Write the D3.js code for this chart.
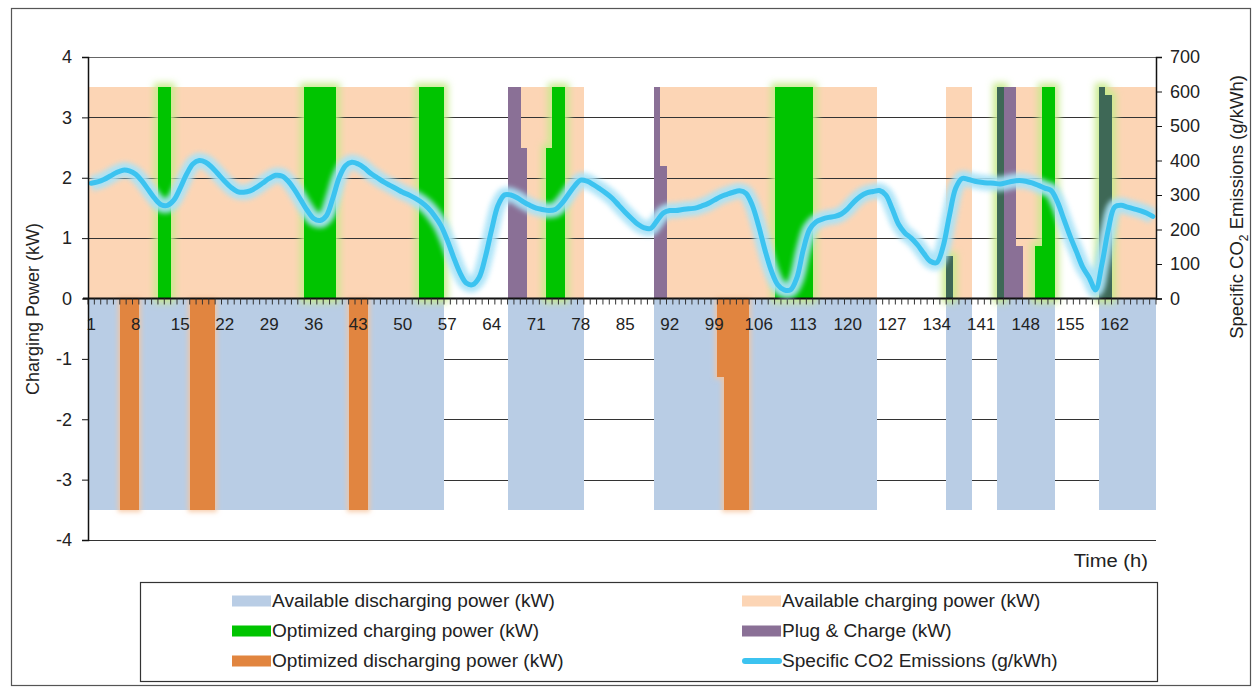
<!DOCTYPE html>
<html><head><meta charset="utf-8">
<script src="https://cdn.jsdelivr.net/npm/d3@7"></script>
<style>
body{margin:0;background:#fff;}
text{font-family:"Liberation Sans",Arial,sans-serif;fill:#222;}
</style></head>
<body><svg id="c" width="1255" height="689"></svg>
<script>
// ---------- data ----------
const hours = d3.range(1, 169);
const xTickLabels = [1,8,15,22,29,36,43,50,57,64,71,78,85,92,99,106,113,120,127,134,141,148,155,162];
const leftTicks = [-4,-3,-2,-1,0,1,2,3,4];
const rightTicks = [0,100,200,300,400,500,600,700];
// hour windows when the vehicle is plugged in (available power +/-3.5 kW)
const availableWindows = [[1,56],[67,78],[90,124],[136,139],[144,152],[160,168]];
const availChargeLevel = 3.5;
const availDischargeLevel = -3.5;
// [hour, kW]
const optCharging = [[12,3.5],[13,3.5],[35,3.5],[36,3.5],[37,3.5],[38,3.5],[39,3.5],
  [53,3.5],[54,3.5],[55,3.5],[56,3.5],[73,2.5],[74,3.5],[75,3.5],
  [109,3.5],[110,3.5],[111,3.5],[112,3.5],[113,3.5],[114,3.5],
  [136,0.7],[144,3.5],[150,0.87],[151,3.5],[152,3.5],[160,3.5],[161,3.37]];
const plugCharge = [[67,3.5],[68,3.5],[69,2.5],[90,3.5],[91,2.2],[136,0.7],
  [144,3.5],[145,3.5],[146,3.5],[147,0.87],[160,3.5],[161,3.37]];
const optDischarging = [[6,-3.5],[7,-3.5],[8,-3.5],[17,-3.5],[18,-3.5],[19,-3.5],[20,-3.5],
  [42,-3.5],[43,-3.5],[44,-3.5],[100,-1.3],[101,-3.5],[102,-3.5],[103,-3.5],[104,-3.5]];
// specific CO2 emissions g/kWh, hours 1..168
const co2 = [334,338,345,355,365,372,370,360,340,315,290,272,270,285,320,360,390,400,395,380,
  360,340,322,310,308,312,322,335,348,357,355,340,315,285,255,232,226,240,290,350,
  385,395,390,378,362,350,338,328,318,308,300,290,278,262,240,212,170,120,75,45,
  40,60,120,200,270,300,300,292,280,270,262,258,255,258,275,300,325,343,340,330,
  318,305,290,270,250,232,215,205,203,225,248,255,255,258,260,262,268,275,285,295,
  302,308,312,305,270,210,140,80,40,25,25,60,140,200,222,230,235,238,245,260,
  280,296,306,310,313,300,260,215,190,175,155,130,108,104,150,240,320,348,345,340,
  337,335,334,332,336,340,342,340,335,328,320,313,280,230,180,135,90,60,25,100,
  200,265,270,265,260,255,248,238];

const legendItems = [
  {label:"Available discharging power (kW)", color:"#b9cde5", type:"bar", col:0, row:0},
  {label:"Available charging power (kW)", color:"#fcd5b5", type:"bar", col:1, row:0},
  {label:"Optimized charging power (kW)", color:"#00c400", type:"bar", col:0, row:1},
  {label:"Plug & Charge (kW)", color:"#8a7096", type:"bar", col:1, row:1},
  {label:"Optimized discharging power (kW)", color:"#e1853f", type:"bar", col:0, row:2},
  {label:"Specific CO2 Emissions (g/kWh)", color:"#3cc3f0", type:"line", col:1, row:2}
];

// ---------- drawing ----------
const svg = d3.select("#c");
const X0 = 88, X1 = 1156;
const x = d3.scaleBand().domain(hours).range([X0, X1]).padding(0);
const y = d3.scaleLinear().domain([-4, 4]).range([540, 57]);
const y2 = d3.scaleLinear().domain([0, 700]).range([y(0), y(4)]);

const defs = svg.append("defs");
function glow(id, color, dil, sd, op){
  const f = defs.append("filter").attr("id", id)
    .attr("filterUnits","userSpaceOnUse").attr("x",0).attr("y",0).attr("width",1255).attr("height",689);
  f.append("feMorphology").attr("in","SourceAlpha").attr("operator","dilate").attr("radius",dil).attr("result","d");
  f.append("feGaussianBlur").attr("in","d").attr("stdDeviation",sd).attr("result","b");
  f.append("feFlood").attr("flood-color",color).attr("flood-opacity",op);
  f.append("feComposite").attr("in2","b").attr("operator","in").attr("result","g");
  const m = f.append("feMerge");
  m.append("feMergeNode").attr("in","g");
  m.append("feMergeNode").attr("in","SourceGraphic");
}
glow("gGreen", "#c8eb8c", 4, 3.5, 0.95);
glow("gOrange", "#f7c49c", 1.5, 2.5, 0.85);
defs.append("filter").attr("id","blurLine").attr("filterUnits","userSpaceOnUse")
  .attr("x",0).attr("y",0).attr("width",1255).attr("height",689)
  .append("feGaussianBlur").attr("stdDeviation",2.4);

// outer frame
svg.append("rect").attr("x",11.5).attr("y",8.5).attr("width",1239).attr("height",677)
  .attr("fill","none").attr("stroke","#555").attr("stroke-width",1.2);

// availability expanded per hour
const inWindow = h => availableWindows.some(w => h >= w[0] && h <= w[1]);
const availCharge = hours.filter(inWindow).map(h => [h, availChargeLevel]);
const availDischarge = hours.filter(inWindow).map(h => [h, availDischargeLevel]);

function bars(g, data, color){
  g.selectAll(null).data(data).enter().append("rect")
    .attr("x", d => x(d[0]))
    .attr("width", x.bandwidth() + 0.3)
    .attr("y", d => Math.min(y(d[1]), y(0)))
    .attr("height", d => Math.abs(y(d[1]) - y(0)))
    .attr("fill", color)
    .attr("shape-rendering","crispEdges");
}

bars(svg.append("g"), availCharge, "#fcd5b5");
// gridlines
svg.append("g").selectAll("line").data(leftTicks.filter(t => t !== 0)).enter().append("line")
  .attr("x1", X0).attr("x2", X1).attr("y1", d => Math.round(y(d)) + 0.5).attr("y2", d => Math.round(y(d)) + 0.5)
  .attr("stroke", d => d === 4 ? "#666" : "#333").attr("stroke-width", 1);
bars(svg.append("g"), availDischarge, "#b9cde5");

bars(svg.append("g").attr("filter","url(#gGreen)"), optCharging, "#00c400");
bars(svg.append("g"), plugCharge, "#8a7096");
// overlap of optimized charging and plug & charge
const optMap = new Map(optCharging);
const overlap = plugCharge.filter(d => optMap.has(d[0])).map(d => [d[0], Math.min(d[1], optMap.get(d[0]))]);
bars(svg.append("g"), overlap, "#3e6856");
bars(svg.append("g").attr("filter","url(#gOrange)"), optDischarging, "#e1853f");

// x axis at 0
const xAxis = svg.append("g");
xAxis.append("line").attr("x1", X0 - 5).attr("x2", X1).attr("y1", y(0)).attr("y2", y(0))
  .attr("stroke", "#111").attr("stroke-width", 2);
xAxis.selectAll(".tk").data(hours.concat([169])).enter().append("line")
  .attr("x1", d => d === 169 ? X1 : x(d)).attr("x2", d => d === 169 ? X1 : x(d))
  .attr("y1", y(0)).attr("y2", y(0) + 6).attr("stroke", "#333").attr("stroke-width", 1);
xAxis.selectAll("text").data(xTickLabels).enter().append("text")
  .attr("x", d => x(d) + x.bandwidth() / 2).attr("y", y(0) + 31)
  .attr("text-anchor","middle").attr("font-size", 17).text(d => d);

// CO2 line
const line = d3.line().x((d, i) => x(hours[i]) + x.bandwidth() / 2).y(d => y2(d)).curve(d3.curveCatmullRom.alpha(0.5));
svg.append("path").attr("d", line(co2)).attr("fill","none").attr("stroke","#a9e3f8")
  .attr("stroke-width", 15).attr("stroke-linejoin","round").attr("opacity",0.95).attr("filter","url(#blurLine)");
svg.append("path").attr("d", line(co2)).attr("fill","none").attr("stroke","#3cc3f0")
  .attr("stroke-width", 5).attr("stroke-linejoin","round").attr("stroke-linecap","round");

// left axis
const la = svg.append("g").attr("transform", `translate(${X0},0)`)
  .call(d3.axisLeft(y).tickValues(leftTicks).tickSize(6).tickPadding(10).tickFormat(d => String(d)));
la.select(".domain").attr("stroke","#111").attr("stroke-width",1.5);
la.selectAll(".tick line").attr("stroke","#111");
la.selectAll("text").attr("font-size",18).attr("font-family","Liberation Sans, Arial, sans-serif").attr("fill","#222");

// right axis
const ra = svg.append("g").attr("transform", `translate(${X1},0)`)
  .call(d3.axisRight(y2).tickValues(rightTicks).tickSize(6).tickPadding(8));
ra.select(".domain").attr("stroke","#111").attr("stroke-width",1.5);
ra.selectAll(".tick line").attr("stroke","#111");
ra.selectAll("text").attr("font-size",18).attr("font-family","Liberation Sans, Arial, sans-serif").attr("fill","#222");

function stretch(sel, k){
  sel.each(function(){
    const w = this.getComputedTextLength();
    d3.select(this).attr("textLength", w * k).attr("lengthAdjust","spacingAndGlyphs");
  });
}

// axis titles
svg.append("text").attr("transform", `translate(39,309) rotate(-90)`)
  .attr("text-anchor","middle").attr("font-size",18).text("Charging Power (kW)");
const rt = svg.append("text").attr("transform", `translate(1243,207) rotate(-90)`)
  .attr("text-anchor","middle").attr("font-size",18.5);
rt.append("tspan").text("Specific CO");
rt.append("tspan").attr("font-size",12).attr("dy",5).text("2");
rt.append("tspan").attr("dy",-5).text(" Emissions  (g/kWh)");
svg.append("text").attr("x",1148).attr("y",567).attr("text-anchor","end").attr("font-size",18).text("Time (h)").call(stretch, 1.12);

// legend
const lg = svg.append("g");
lg.append("rect").attr("x",140.5).attr("y",582.5).attr("width",1017).attr("height",99)
  .attr("fill","#fff").attr("stroke","#333").attr("stroke-width",1.2);
const colX = [232, 742], rowY = [601, 631, 661];
const li = lg.selectAll(".li").data(legendItems).enter().append("g")
  .attr("transform", d => `translate(${colX[d.col]},${rowY[d.row]})`);
li.filter(d => d.type === "bar").append("rect").attr("x",0).attr("y",-5.5).attr("width",39).attr("height",11).attr("fill", d => d.color);
li.filter(d => d.type === "line").append("line").attr("x1",3).attr("x2",37).attr("y1",0).attr("y2",0)
  .attr("stroke", d => d.color).attr("stroke-width",6).attr("stroke-linecap","round");
li.append("text").attr("x",40).attr("y",6).attr("font-size",18).text(d => d.label).call(stretch, 1.06);
</script></body></html>
